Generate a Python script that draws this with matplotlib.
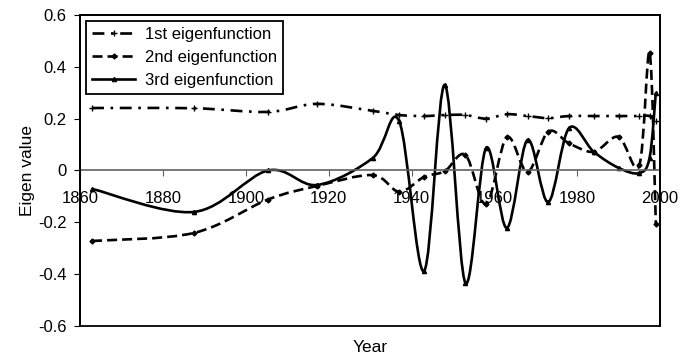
import numpy as np
import matplotlib
matplotlib.use("Agg")
import matplotlib.pyplot as plt
from matplotlib.path import Path
from matplotlib.patches import PathPatch, Rectangle
from matplotlib.lines import Line2D

plt.rcParams['font.family'] = ['Liberation Sans', 'DejaVu Sans']

years = [1862.8, 1887.4, 1905.3, 1917.1, 1930.6, 1937.0, 1943.0, 1948.0, 1953.0,
         1958.0, 1963.0, 1968.0, 1973.0, 1978.0, 1984.0, 1990.0, 1995.0, 1997.5, 1999.0]
eig1 = [0.241, 0.240, 0.226, 0.257, 0.230, 0.214, 0.210, 0.214, 0.214,
        0.200, 0.217, 0.210, 0.202, 0.210, 0.210, 0.210, 0.210, 0.210, 0.190]
eig2 = [-0.272, -0.241, -0.112, -0.060, -0.018, -0.082, -0.025, -0.003, 0.060,
        -0.130, 0.128, -0.005, 0.150, 0.105, 0.072, 0.130, 0.020, 0.455, -0.205]
eig3 = [-0.071, -0.160, 0.000, -0.056, 0.048, 0.190, -0.388, 0.330, -0.434,
        0.087, -0.222, 0.118, -0.122, 0.163, 0.072, 0.010, -0.010, 0.050, 0.300]
labels = ["1st eigenfunction", "2nd eigenfunction", "3rd eigenfunction"]


def smooth_path(x, y):
    # excel-like smoothed line: catmull-rom as cubic bezier segments
    p = np.column_stack([x, y])
    n = len(p)
    verts = [p[0]]
    codes = [Path.MOVETO]
    for i in range(n - 1):
        p0 = p[max(i - 1, 0)]
        p1 = p[i]
        p2 = p[i + 1]
        p3 = p[min(i + 2, n - 1)]
        verts += [p1 + (p2 - p0) / 6, p2 - (p3 - p1) / 6, p2]
        codes += [Path.CURVE4] * 3
    return Path(verts, codes)


fig = plt.figure(figsize=(6.95, 3.56), dpi=100)
ax = fig.add_axes([0.1158, 0.0843, 0.8338, 0.8737])

lw = 1.9
styles = [
    dict(ls=(0, (4.5, 2.5, 1, 2.5)), marker="+", ms=4.5),
    dict(ls=(0, (3.8, 1.9)), marker="D", ms=2.5),
    dict(ls="-", marker="^", ms=3),
]
series = [eig1, eig2, eig3]
handles = []
for vals, st, lab in zip(series, styles, labels):
    patch = PathPatch(smooth_path(years, vals), fill=False, edgecolor="black",
                      lw=lw, linestyle=st["ls"], capstyle="butt")
    ax.add_patch(patch)
    ax.plot(years, vals, ls="none", marker=st["marker"], ms=st["ms"],
            color="black", mew=1)
    handles.append(Line2D([], [], color="black", lw=lw, linestyle=st["ls"],
                          marker=st["marker"], ms=st["ms"], mew=1))

ax.set_xlim(1860, 2000)
ax.set_ylim(-0.6, 0.6)
ax.set_xticks(np.arange(1860, 2001, 20))
ax.set_yticks(np.arange(-0.6, 0.61, 0.2))
ax.set_yticklabels(["-0.6", "-0.4", "-0.2", "0", "0.2", "0.4", "0.6"])

# x axis crosses at zero, box drawn separately
ax.spines['bottom'].set_position(('data', 0))
ax.spines['bottom'].set_color('#606060')
ax.spines['bottom'].set_linewidth(1.2)
for s in ['top', 'right', 'left']:
    ax.spines[s].set_linewidth(1.3)
ax.add_patch(Rectangle((0, 0), 1, 1, transform=ax.transAxes, fill=False,
                       edgecolor="black", lw=1.3, clip_on=False, zorder=5))

ax.tick_params(axis='x', direction='out', length=4, pad=11, labelsize=12,
               color='#606060')
ax.tick_params(axis='y', direction='out', length=4, pad=6, labelsize=12)

ax.set_xlabel("Year", fontsize=12.5)
ax.xaxis.set_label_coords(0.5, -0.045)
ax.set_ylabel("Eigen value", fontsize=12.5)
ax.yaxis.set_label_coords(-0.078, 0.5)

leg = ax.legend(handles, labels, loc="upper left", fontsize=12,
                handlelength=2.6, handletextpad=0.55, labelspacing=0.5,
                borderaxespad=0.35, fancybox=False, framealpha=1,
                edgecolor="black", borderpad=0.35)
leg.get_frame().set_linewidth(1.3)

fig.savefig("out.png", dpi=100)
